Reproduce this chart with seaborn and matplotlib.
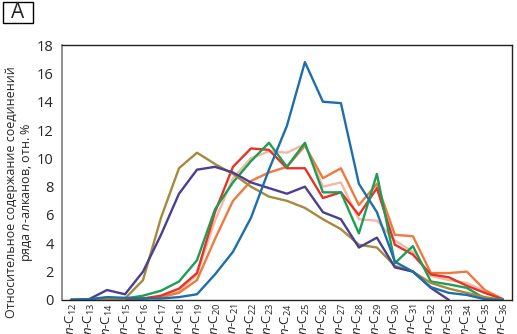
import numpy as np
import pandas as pd
import matplotlib.pyplot as plt
import seaborn as sns
from matplotlib.patches import Rectangle

# chain length C12..C36
carbons = list(range(12, 37))
tick_labels = [r"$n$-C$_{%d}$" % c for c in carbons]

salmon = [0, 0, 0.05, 0.05, 0.1, 0.2, 0.6, 1.8, 5.6, 8.6, 10.0, 10.5, 10.4, 11.0, 8.0, 8.3, 5.7, 5.6, 4.2, 3.4, 1.7, 1.4, 1.2, 0.6, 0.05]
orange = [0, 0, 0.05, 0.05, 0.1, 0.2, 0.5, 1.4, 4.3, 7.0, 8.4, 9.0, 9.4, 10.9, 8.6, 9.3, 6.7, 8.2, 4.6, 4.5, 1.9, 1.9, 2.0, 0.7, 0.05]
red = [0, 0, 0.05, 0.05, 0.1, 0.3, 0.8, 1.9, 6.2, 9.4, 10.7, 10.6, 9.3, 9.3, 7.2, 7.6, 6.0, 7.9, 3.9, 3.2, 1.8, 1.6, 1.0, 0.5, 0.05]
green = [0, 0, 0.1, 0.1, 0.3, 0.65, 1.3, 2.8, 6.4, 8.3, 9.8, 11.1, 9.4, 11.1, 7.6, 7.6, 4.7, 8.9, 2.6, 3.8, 1.3, 1.1, 0.85, 0.1, 0]
brown = [0, 0, 0.05, 0.1, 1.4, 5.8, 9.3, 10.4, 9.6, 8.9, 8.0, 7.3, 7.0, 6.5, 5.7, 5.0, 3.9, 3.7, 2.4, 2.0, 1.2, 0.8, 0.5, 0.2, 0]
purple = [0, 0.05, 0.7, 0.4, 2.0, 4.6, 7.5, 9.2, 9.4, 9.0, 8.3, 7.9, 7.5, 8.0, 6.2, 5.7, 3.7, 4.4, 2.3, 2.0, 0.85, 0, np.nan, np.nan, np.nan]
blue = [0, 0.05, 0.2, 0.15, 0.1, 0.1, 0.2, 0.4, 1.8, 3.4, 5.8, 9.2, 12.3, 16.8, 14.0, 13.9, 8.2, 6.2, 2.7, 2.0, 0.9, 0.5, 0.35, 0.05, 0]

series = {"salmon": salmon, "orange": orange, "red": red, "green": green,
          "brown": brown, "purple": purple, "blue": blue}
colors = {"salmon": "#F6B8A4", "orange": "#EF7A3F", "red": "#E5332A", "green": "#1E9E55",
          "brown": "#A68A3C", "purple": "#4B3F91", "blue": "#1D6FAA"}

df = pd.concat([pd.DataFrame({"c": carbons, "val": v, "sample": k}) for k, v in series.items()],
               ignore_index=True)

sns.set_style("white")
plt.rcParams['font.family'] = ['Open Sans', 'DejaVu Sans']
plt.rcParams['mathtext.fontset'] = 'custom'
plt.rcParams['mathtext.it'] = 'Open Sans:italic'
plt.rcParams['mathtext.rm'] = 'Open Sans'

fig = plt.figure(figsize=(5.17, 3.34), dpi=100)
ax = fig.add_axes([0.12, 0.102, 0.870, 0.763])

sns.lineplot(data=df, x="c", y="val", hue="sample", palette=colors, linewidth=1.7,
             legend=False, ax=ax)

ax.set_xlim(11.5, 36.5)
ax.set_ylim(0, 18)
ax.set_yticks(range(0, 19, 2))
ax.set_xticks(carbons)
ax.set_xticklabels(tick_labels, rotation=90, fontsize=9.5)
ax.set_xticks(np.arange(11.5, 37, 1), minor=True)
ax.tick_params(axis='x', which='major', length=0, pad=2)
ax.tick_params(axis='x', which='minor', length=3, direction='in', width=0.8)
ax.tick_params(axis='y', length=4, direction='out', width=0.8, labelsize=10.5, pad=2,
               color="#888888")
ax.set_xlabel("")
ax.set_ylabel("")
for s in ax.spines.values():
    s.set_color("#222222")
    s.set_linewidth(1)
ax.spines['left'].set_color("#888888")
ax.spines['left'].set_linewidth(1.3)

fig.text(20 / 517, 1 - 192 / 334,
         "Относительное содержание соединений\nряда $n$-алканов, отн. %",
         rotation=90, ha="center", va="center", fontsize=9, linespacing=1.15)

fig.patches.append(Rectangle((3 / 517, 1 - 23 / 334), 30 / 517, 21 / 334,
                             transform=fig.transFigure, fill=False, ec="black", lw=1))
fig.text(18 / 517, 1 - 13 / 334, "A", fontsize=15, ha="center", va="center")

fig.savefig("out.png", dpi=100)
